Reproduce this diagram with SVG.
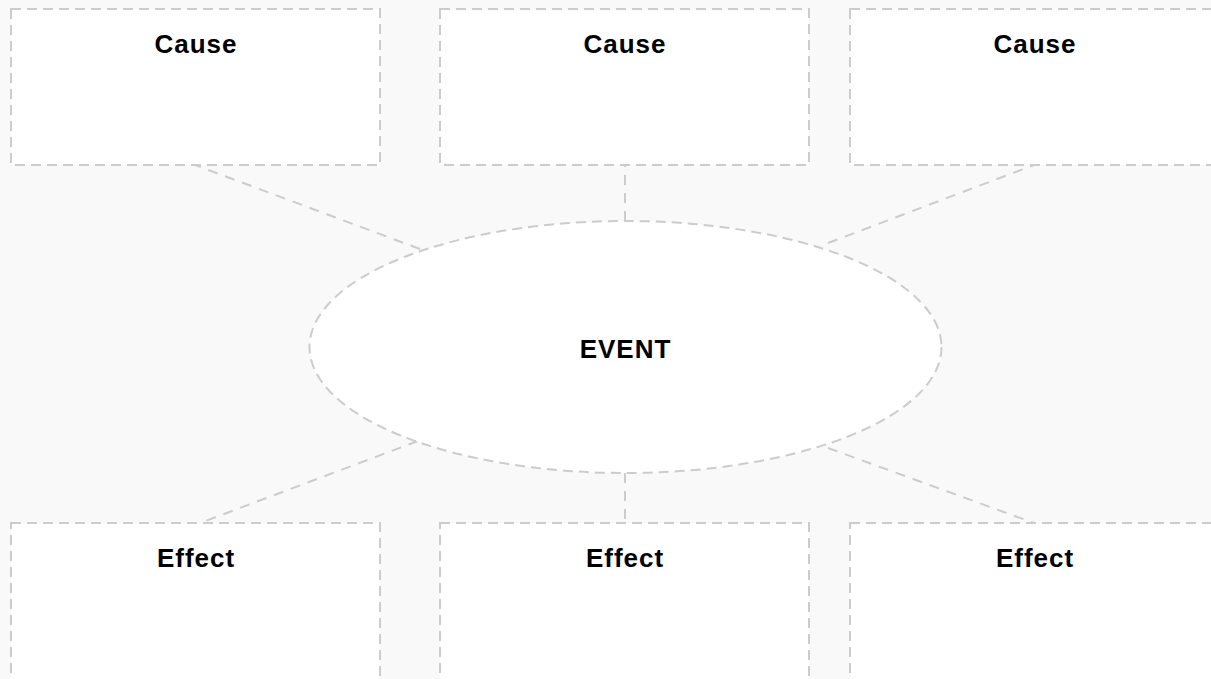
<svg xmlns="http://www.w3.org/2000/svg" width="1211" height="679" viewBox="0 0 1211 679">
<style>
.bg{fill:#f9f9f9}
.box{fill:#ffffff;stroke:#cccccc;stroke-width:2;stroke-dasharray:10 6}
.ln{fill:none;stroke:#cccccc;stroke-width:2;stroke-dasharray:10 8}
.lbl{font-family:"Liberation Sans",Arial,sans-serif;font-size:26px;font-weight:bold;letter-spacing:1px;fill:#000;text-anchor:middle}
</style>
<rect class="bg" x="0" y="0" width="1211" height="679"/>
<g id="connectors">
<line class="ln" x1="420" y1="249" x2="195" y2="165"/>
<line class="ln" x1="625" y1="221" x2="625" y2="165"/>
<line class="ln" x1="828" y1="243" x2="1034" y2="165"/>
<line class="ln" x1="418" y1="441" x2="200" y2="523"/>
<line class="ln" x1="625" y1="473" x2="625" y2="523"/>
<line class="ln" x1="828" y1="448" x2="1034" y2="523"/>
</g>
<g id="cause1"><rect class="box" x="11" y="9" width="369" height="156"/><text class="lbl" x="196" y="53">Cause</text></g>
<g id="cause2"><rect class="box" x="440" y="9" width="369" height="156"/><text class="lbl" x="625" y="53">Cause</text></g>
<g id="cause3"><rect class="box" x="850" y="9" width="369" height="156"/><text class="lbl" x="1035" y="53">Cause</text></g>
<g id="event"><ellipse class="box" cx="625.5" cy="347" rx="316" ry="126"/><text class="lbl" x="625.5" y="358">EVENT</text></g>
<g id="effect1"><rect class="box" x="11" y="523" width="369" height="170"/><text class="lbl" x="196" y="567">Effect</text></g>
<g id="effect2"><rect class="box" x="440" y="523" width="369" height="170"/><text class="lbl" x="625" y="567">Effect</text></g>
<g id="effect3"><rect class="box" x="850" y="523" width="369" height="170"/><text class="lbl" x="1035" y="567">Effect</text></g>
</svg>
